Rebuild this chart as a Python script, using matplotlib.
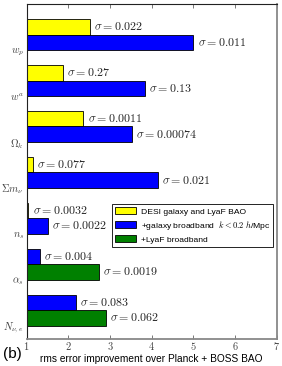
#!/usr/bin/python
# Horizontal bar chart: rms error improvement of DESI over Planck + BOSS BAO.

import numpy as np
import matplotlib
matplotlib.use('Agg')
import matplotlib.pyplot as plt

plt.rcParams['mathtext.fontset'] = 'cm'

params = [r'$w_p$', r'$w^a$', r'$\Omega_k$', r'$\Sigma m_\nu$', r'$n_s$',
          r'$\alpha_s$', r'$N_{\nu,e}$']

series_names = ['DESI galaxy and LyaF BAO',
                r'+galaxy broadband  $k<0.2\ h$/Mpc',
                '+LyaF broadband']
series_colors = ['#ffff00', '#0000ff', '#008000']

# improvement factors (None = bar not drawn)
bao = [2.51, 1.86, 2.36, 1.14, 1.04, None, None]
gal_bb = [5.0, 3.84, 3.52, 4.14, 1.50, 1.31, 2.18]
lya_bb = [None, None, None, None, None, 2.74, 2.90]

bao_sigma = ['0.022', '0.27', '0.0011', '0.077', '0.0032', None, None]
gal_sigma = ['0.011', '0.13', '0.00074', '0.021', '0.0022', '0.004', '0.083']
lya_sigma = [None, None, None, None, None, '0.0019', '0.062']


def PlotBars():
  fig = plt.figure(figsize=(2.82, 3.66), dpi=100)
  ax = fig.add_axes([0.0947, 0.0738, 0.8865, 0.9145])

  values = [bao, gal_bb, lya_bb]
  sigmas = [bao_sigma, gal_sigma, lya_sigma]
  h = 1.0 / 3.0

  handles = [None, None, None]
  for i in range(len(params)):
    slot = 0
    for s in range(3):
      v = values[s][i]
      if v is None:
        continue
      y = i + h / 2 + slot * h
      b = ax.barh(y, v - 1.0, left=1.0, height=h, color=series_colors[s],
                  edgecolor='black', linewidth=0.6)
      if handles[s] is None:
        handles[s] = b
      ax.text(v + 0.1, y, r'$\sigma = %s$' % sigmas[s][i], fontsize=8.6,
              va='center', ha='left', color='#222222')
      slot += 1

  ax.set_xlim(1, 7)
  ax.set_ylim(len(params) - 0.04, -0.326)
  ax.set_xticks(np.arange(1, 8))
  ax.set_xticklabels(['$%d$' % t for t in range(1, 8)], fontsize=7.5,
                     color='#444444')
  ax.set_yticks(np.arange(len(params)) + 2 * h)
  ax.set_yticklabels(params, fontsize=7.5, color='#444444')
  ax.tick_params(axis='x', direction='in', top=True, length=3, width=0.5,
                 pad=1, color='#444444')
  ax.tick_params(axis='y', length=0, pad=2)

  for side in ['left', 'top']:
    ax.spines[side].set_color('#222222')
    ax.spines[side].set_linewidth(0.8)
  for side in ['right', 'bottom']:
    ax.spines[side].set_color('#888888')
    ax.spines[side].set_linewidth(1.3)

  ax.set_xlabel('rms error improvement over Planck + BOSS BAO',
                fontsize=7.3, family='Liberation Sans', labelpad=1)

  leg = ax.legend(handles, series_names, loc='upper left',
                  bbox_to_anchor=(0.342, 0.403),
                  prop={'family': 'Liberation Sans', 'size': 6.1},
                  fancybox=False, framealpha=1, edgecolor='black',
                  handlelength=2.5, handleheight=0.9, handletextpad=0.5,
                  borderpad=0.35, labelspacing=0.4, borderaxespad=0)
  leg.get_frame().set_linewidth(0.6)

  fig.text(0.01, 0.022, '(b)', fontsize=11, family='Liberation Sans')

  fig.savefig('out.png', dpi=100)


if __name__ == "__main__":
  PlotBars()
